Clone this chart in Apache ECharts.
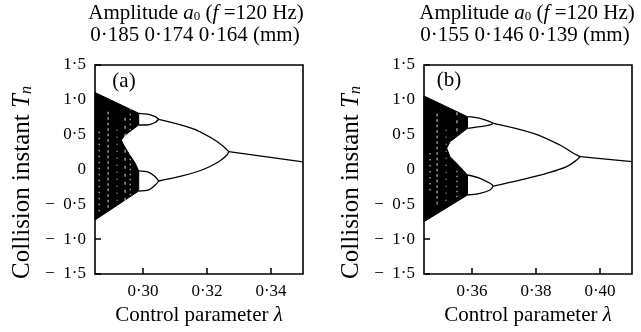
<!DOCTYPE html>
<html>
<head>
<meta charset="utf-8">
<script src="https://cdn.jsdelivr.net/npm/echarts@6/dist/echarts.min.js"></script>
<style>
  html, body { margin: 0; padding: 0; background: #fff; }
  #chart { width: 641px; height: 332px; }
</style>
</head>
<body>
<div id="chart"></div>
<script>
// tick labels
const xTicksA = [0.30, 0.32, 0.34];
const xTicksB = [0.36, 0.38, 0.40];

// panel (a): outline of the chaotic band [lambda, T]
const chaosA = [
  [0.285, 1.105], [0.29866, 0.807], [0.29866, 0.639], [0.29656, 0.567],
  [0.29447, 0.495], [0.29322, 0.423], [0.29397, 0.352], [0.29553, 0.233],
  [0.29759, 0.089], [0.29866, -0.021], [0.29866, -0.309], [0.285, -0.725]
];
// panel (a): light gaps inside the band [lambda, T from, T to]
const gapsA = [
  [0.2863, -0.60, 0.55], [0.2891, -0.55, 0.85], [0.2919, -0.65, 0.60],
  [0.2944, -0.45, 0.75], [0.2960, -0.44, 0.86]
];
// panel (a): periodic branches
const loopUpTopA = [[0.29866, 0.807], [0.30178, 0.792], [0.30384, 0.758], [0.30491, 0.721]];
const loopUpBotA = [[0.29866, 0.639], [0.30125, 0.639], [0.30384, 0.677], [0.30491, 0.721]];
const loopLowTopA = [[0.29866, -0.021], [0.30178, -0.040], [0.30384, -0.103], [0.30491, -0.165]];
const loopLowBotA = [[0.29866, -0.309], [0.30178, -0.294], [0.30384, -0.222], [0.30491, -0.165]];
const branchUpA = [[0.30491, 0.721], [0.31531, 0.591], [0.32156, 0.448], [0.32522, 0.327], [0.32678, 0.256]];
const branchLowA = [[0.30491, -0.165], [0.31116, -0.103], [0.31844, -0.007], [0.32366, 0.112], [0.32625, 0.208], [0.32678, 0.256]];
const period1A = [[0.32678, 0.256], [0.35, 0.108]];

// panel (b)
const chaosB = [
  [0.345, 1.055], [0.3586, 0.758], [0.3586, 0.591], [0.35313, 0.399],
  [0.3521, 0.304], [0.35313, 0.184], [0.35572, 0.065], [0.3586, -0.079],
  [0.3586, -0.366], [0.345, -0.749]
];
const gapsB = [
  [0.3469, -0.30, 0.30], [0.3491, -0.50, 0.80], [0.3519, -0.45, 0.60],
  [0.3553, 0.55, 0.85], [0.3553, -0.40, 0.00]
];
const loopUpTopB = [[0.3586, 0.758], [0.3625, 0.735], [0.36563, 0.686], [0.36666, 0.663]];
const loopUpBotB = [[0.3586, 0.591], [0.3625, 0.615], [0.36563, 0.639], [0.36666, 0.663]];
const loopLowTopB = [[0.3586, -0.079], [0.3625, -0.126], [0.36563, -0.198], [0.36666, -0.237]];
const loopLowBotB = [[0.3586, -0.366], [0.3625, -0.342], [0.36563, -0.294], [0.36666, -0.237]];
const branchUpB = [[0.36666, 0.663], [0.37916, 0.520], [0.3875, 0.352], [0.39166, 0.233], [0.39375, 0.184]];
const branchLowB = [[0.36666, -0.237], [0.375, -0.151], [0.38334, -0.055], [0.38959, 0.040], [0.39272, 0.136], [0.39375, 0.184]];
const period1B = [[0.39375, 0.184], [0.41, 0.112]];

const FONT = "'Liberation Serif', 'DejaVu Serif', serif";
function richSet(size) {
  const sub = Math.round(size * 0.62);
  return {
    n: { fontFamily: FONT, fontSize: size, color: '#000' },
    i: { fontFamily: FONT, fontSize: size, fontStyle: 'italic', color: '#000' },
    s: { fontFamily: FONT, fontSize: sub, color: '#000', padding: [Math.round(size * 0.4), 0, 0, 0] },
    si: { fontFamily: FONT, fontSize: sub, fontStyle: 'italic', color: '#000', padding: [Math.round(size * 0.4), 0, 0, 0] }
  };
}
const rich21 = richSet(21);
const richY = richSet(25);
const dashes = [[1.5, 4.5], [2.5, 3], [1, 6], [3, 5], [1.5, 3.5]];

const fmtY = v => v === 0 ? '0' : (v < 0 ? '\u2212\u2002' : '') + Math.abs(v).toFixed(1).replace('.', '\u00b7');
const fmtX = v => v.toFixed(2).replace('.', '\u00b7');

function xAxis(idx, min, max, ticks) {
  return {
    type: 'value', gridIndex: idx, min: min, max: max, position: 'bottom',
    name: '{n|Control parameter }{i|\u03bb}', nameLocation: 'middle', nameGap: 30,
    nameTextStyle: { rich: rich21 },
    axisLine: { show: false, onZero: false },
    splitLine: { show: false },
    axisTick: { show: true, inside: true, length: 6, customValues: ticks, lineStyle: { color: '#000', width: 1.5 } },
    axisLabel: { customValues: ticks, formatter: fmtX, margin: 9, color: '#000', fontFamily: FONT, fontSize: 17 }
  };
}
function yAxis(idx, gap) {
  return {
    type: 'value', gridIndex: idx, min: -1.5, max: 1.5, interval: 0.5, position: 'left',
    name: '{n|Collision instant }{i|T}{si|n}', nameLocation: 'middle', nameGap: gap, nameRotate: 90,
    nameTextStyle: { rich: richY, padding: [0, 26, 0, 0] },
    axisLine: { show: false, onZero: false },
    splitLine: { show: false },
    axisTick: { show: true, inside: true, length: 6, lineStyle: { color: '#000', width: 1.5 } },
    axisLabel: { formatter: fmtY, margin: 9, color: '#000', fontFamily: FONT, fontSize: 17 }
  };
}

function chaos(pts, idx) {
  return {
    type: 'custom', xAxisIndex: idx, yAxisIndex: idx, data: pts, silent: true, z: 1,
    renderItem: (params, api) => {
      if (params.dataIndex !== 0) return;
      return {
        type: 'polygon',
        shape: { points: pts.map(p => api.coord(p)) },
        style: { fill: '#000', stroke: '#000', lineWidth: 1 }
      };
    }
  };
}
function gaps(rows, idx) {
  return {
    type: 'custom', xAxisIndex: idx, yAxisIndex: idx, data: rows, silent: true, z: 2,
    encode: { x: 0, y: [1, 2] },
    renderItem: (params, api) => {
      const a = api.coord([api.value(0), api.value(1)]);
      const b = api.coord([api.value(0), api.value(2)]);
      return {
        type: 'line',
        shape: { x1: a[0], y1: a[1], x2: b[0], y2: b[1] },
        style: { stroke: '#fff', lineWidth: 1.1, lineDash: dashes[params.dataIndex % dashes.length], opacity: 0.8 }
      };
    }
  };
}
function branch(pts, idx) {
  return {
    type: 'line', xAxisIndex: idx, yAxisIndex: idx, data: pts, showSymbol: false,
    smooth: 0.35, silent: true, z: 3,
    lineStyle: { color: '#000', width: 1.3 }
  };
}

const series = [
  chaos(chaosA, 0), chaos(chaosB, 1), gaps(gapsA, 0), gaps(gapsB, 1),
  ...[loopUpTopA, loopUpBotA, loopLowTopA, loopLowBotA, branchUpA, branchLowA, period1A].map(p => branch(p, 0)),
  ...[loopUpTopB, loopUpBotB, loopLowTopB, loopLowBotB, branchUpB, branchLowB, period1B].map(p => branch(p, 1))
];

function label(x, y, text) {
  return { type: 'text', x: x, y: y, z: 10, style: { text: text, rich: rich21, align: 'center', verticalAlign: 'middle' } };
}

const chart = echarts.init(document.getElementById('chart'), null, { renderer: 'canvas' });
chart.setOption({
  animation: false,
  backgroundColor: '#fff',
  grid: [
    { left: 95, top: 65, width: 208, height: 209, show: true, borderColor: '#000', borderWidth: 1.6 },
    { left: 424, top: 65, width: 208, height: 209, show: true, borderColor: '#000', borderWidth: 1.6 }
  ],
  xAxis: [xAxis(0, 0.285, 0.35, xTicksA), xAxis(1, 0.345, 0.41, xTicksB)],
  yAxis: [yAxis(0, 60), yAxis(1, 60)],
  series: series,
  graphic: [
    label(196, 13, '{n|Amplitude }{i|a}{s|0}{n| (}{i|f}{n| =120 Hz)}'),
    label(195, 35, '{n|0\u00b7185 0\u00b7174 0\u00b7164 (mm)}'),
    label(527, 13, '{n|Amplitude }{i|a}{s|0}{n| (}{i|f}{n| =120 Hz)}'),
    label(525, 35, '{n|0\u00b7155 0\u00b7146 0\u00b7139 (mm)}'),
    label(124, 81, '{n|(a)}'),
    label(449, 80, '{n|(b)}')
  ]
});
</script>
</body>
</html>
